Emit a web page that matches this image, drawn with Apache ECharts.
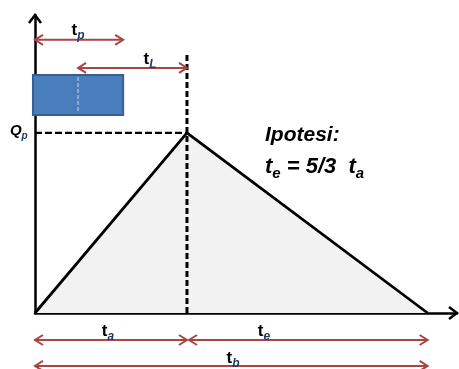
<!DOCTYPE html>
<html>
<head>
<meta charset="utf-8">
<script src="https://cdn.jsdelivr.net/npm/echarts@6/dist/echarts.min.js"></script>
<style>
  html, body { margin: 0; padding: 0; background: #fff; }
  #chart { width: 459px; height: 369px; }
</style>
</head>
<body>
<div id="chart"></div>
<script>
// idrogramma triangolare (t: ta = 3, Q: Qp = 1)
const hydroT = [0, 3, 7.75];
const hydroQ = [0, 1, 0];
const peakLineT = [3, 3];
const peakLineQ = [0, 1.433];
const qpLineT = [0, 3];
const qpLineQ = [1, 1];
// pioggia netta (blocco)
const rainT = [-0.04, 1.74];
const rainQ = [1.1, 1.322];
const rainMidT = 0.85;
// frecce di quota
const arrowSub = ['p', 'L', 'a', 'e', 'b'];
const arrowFrom = [0, 0.85, 0, 3.04, 0];
const arrowTo = [1.74, 3, 3, 7.75, 7.75];
const arrowLevel = [1.517, 1.361, -0.15, -0.15, -0.294];
const labelT = [0.85, 2.27, 1.44, 4.52, 3.91];
const labelLevel = [1.572, 1.411, -0.1, -0.1, -0.25];
const xMax = 8.33
const yMax = 1.655

const FONT = '"Liberation Sans", Arial, sans-serif'
const RED = '#a94543'
const SUBCOL = '#1f3a63'
const ctx = document.createElement('canvas').getContext('2d')
const measure = (txt, font) => { ctx.font = font; return ctx.measureText(txt).width }

// testo con pedici -> lista di elementi text
const tokenTexts = (tokens, x, y, size, align, style, subStyle) => {
  const baseFont = `${style} ${size}px ${FONT}`
  const subSize = Math.round(size * 0.68)
  const subFont = `${subStyle || style} ${subSize}px ${FONT}`
  const widths = tokens.map(tk => measure(tk.s, tk.sub ? subFont : baseFont))
  const total = widths.reduce((a, b) => a + b, 0)
  let cx = align === 'center' ? x - total / 2 : x
  return tokens.map((tk, i) => {
    const el = {
      type: 'text',
      x: cx,
      y: tk.sub ? y + size * 0.32 : y,
      style: {
        text: tk.s,
        font: tk.sub ? subFont : baseFont,
        fill: tk.color || '#000',
        align: 'left',
        verticalAlign: 'middle'
      }
    }
    cx += widths[i]
    return el
  })
}

const chevron = (tip, dx, dy, len, half) => {
  // dx,dy: direzione unitaria verso la punta
  const bx = tip[0] - dx * len, by = tip[1] - dy * len
  return [[bx - dy * half, by + dx * half], tip, [bx + dy * half, by - dx * half]]
}

const chart = echarts.init(document.getElementById('chart'))

chart.setOption({
  animation: false,
  grid: { left: 35, right: 2, top: 15, bottom: 56 },
  xAxis: {
    type: 'value', min: 0, max: xMax,
    axisLine: { show: true, lineStyle: { color: '#000', width: 2.5 } },
    axisTick: { show: false }, axisLabel: { show: false }, splitLine: { show: false }
  },
  yAxis: {
    type: 'value', min: 0, max: yMax,
    axisLine: { show: true, lineStyle: { color: '#000', width: 2.5 } },
    axisTick: { show: false }, axisLabel: { show: false }, splitLine: { show: false }
  },
  series: [
    {
      type: 'line', z: 2,
      data: hydroT.map((t, i) => [t, hydroQ[i]]),
      symbol: 'none',
      lineStyle: { color: '#000', width: 2.8 },
      areaStyle: { color: '#f2f2f2', opacity: 1 }
    },
    {
      type: 'line', z: 3,
      data: peakLineT.map((t, i) => [t, peakLineQ[i]]),
      symbol: 'none',
      lineStyle: { color: '#000', width: 3, type: [6, 3] }
    },
    {
      type: 'line', z: 3,
      data: qpLineT.map((t, i) => [t, qpLineQ[i]]),
      symbol: 'none',
      lineStyle: { color: '#000', width: 2.2, type: [7, 3] }
    },
    {
      // blocco di pioggia
      type: 'custom', z: 5,
      data: [[rainT[0], rainQ[0], rainT[1], rainQ[1], rainMidT]],
      renderItem: (params, api) => {
        const p0 = api.coord([api.value(0), api.value(1)])
        const p1 = api.coord([api.value(2), api.value(3)])
        const pm = api.coord([api.value(4), 0])
        return {
          type: 'group',
          children: [
            { type: 'rect', shape: { x: p0[0], y: p1[1], width: p1[0] - p0[0], height: p0[1] - p1[1] },
              style: { fill: '#4a7dbb', stroke: '#395f91', lineWidth: 2 } },
            { type: 'line', shape: { x1: pm[0], y1: p1[1] + 2, x2: pm[0], y2: p0[1] - 2 },
              style: { stroke: '#c9d7ec', lineWidth: 1, lineDash: [4, 2] } }
          ]
        }
      }
    },
    {
      // frecce rosse
      type: 'custom', z: 6,
      data: arrowFrom.map((f, i) => [f, arrowTo[i], arrowLevel[i]]),
      encode: { x: [0, 1], y: 2 },
      renderItem: (params, api) => {
        const a = api.coord([api.value(0), api.value(2)])
        const b = api.coord([api.value(1), api.value(2)])
        const st = { stroke: RED, lineWidth: 2, fill: null }
        return {
          type: 'group',
          children: [
            { type: 'line', shape: { x1: a[0], y1: a[1], x2: b[0], y2: b[1] }, style: st },
            { type: 'polyline', shape: { points: chevron(a, -1, 0, 8, 5) }, style: st },
            { type: 'polyline', shape: { points: chevron(b, 1, 0, 8, 5) }, style: st }
          ]
        }
      }
    },
    {
      // punte degli assi
      type: 'custom', z: 6,
      data: [[xMax, 0, 1, 0], [0, yMax, 0, -1]],
      renderItem: (params, api) => {
        const tip = api.coord([api.value(0), api.value(1)])
        return {
          type: 'polyline',
          shape: { points: chevron(tip, api.value(2), api.value(3), 8, 6) },
          style: { stroke: '#000', lineWidth: 2.5, fill: null }
        }
      }
    },
    {
      // etichette delle frecce
      type: 'custom', z: 7,
      data: labelT.map((t, i) => [t, labelLevel[i], i]),
      renderItem: (params, api) => {
        const p = api.coord([api.value(0), api.value(1)])
        const sub = arrowSub[api.value(2)]
        return {
          type: 'group',
          children: tokenTexts([{ s: 't' }, { s: sub, sub: true, color: SUBCOL }], p[0], p[1], 17, 'center', 'bold', 'italic bold')
        }
      }
    },
    {
      // Qp e ipotesi
      type: 'custom', z: 7,
      data: [[-0.32, 1.01, 0], [4.54, 0.99, 1], [4.54, 0.81, 2]],
      renderItem: (params, api) => {
        const p = api.coord([api.value(0), api.value(1)])
        const k = api.value(2)
        let children
        if (k === 0) {
          children = tokenTexts([{ s: 'Q' }, { s: 'p', sub: true, color: SUBCOL }], p[0], p[1], 15, 'center', 'italic bold')
        } else if (k === 1) {
          children = tokenTexts([{ s: 'Ipotesi:' }], p[0], p[1], 21, 'left', 'italic bold')
        } else {
          children = tokenTexts([{ s: 't' }, { s: 'e', sub: true }, { s: ' = 5/3  t' }, { s: 'a', sub: true }], p[0], p[1], 22, 'left', 'italic bold')
        }
        return { type: 'group', children }
      }
    }
  ]
})
</script>
</body>
</html>
